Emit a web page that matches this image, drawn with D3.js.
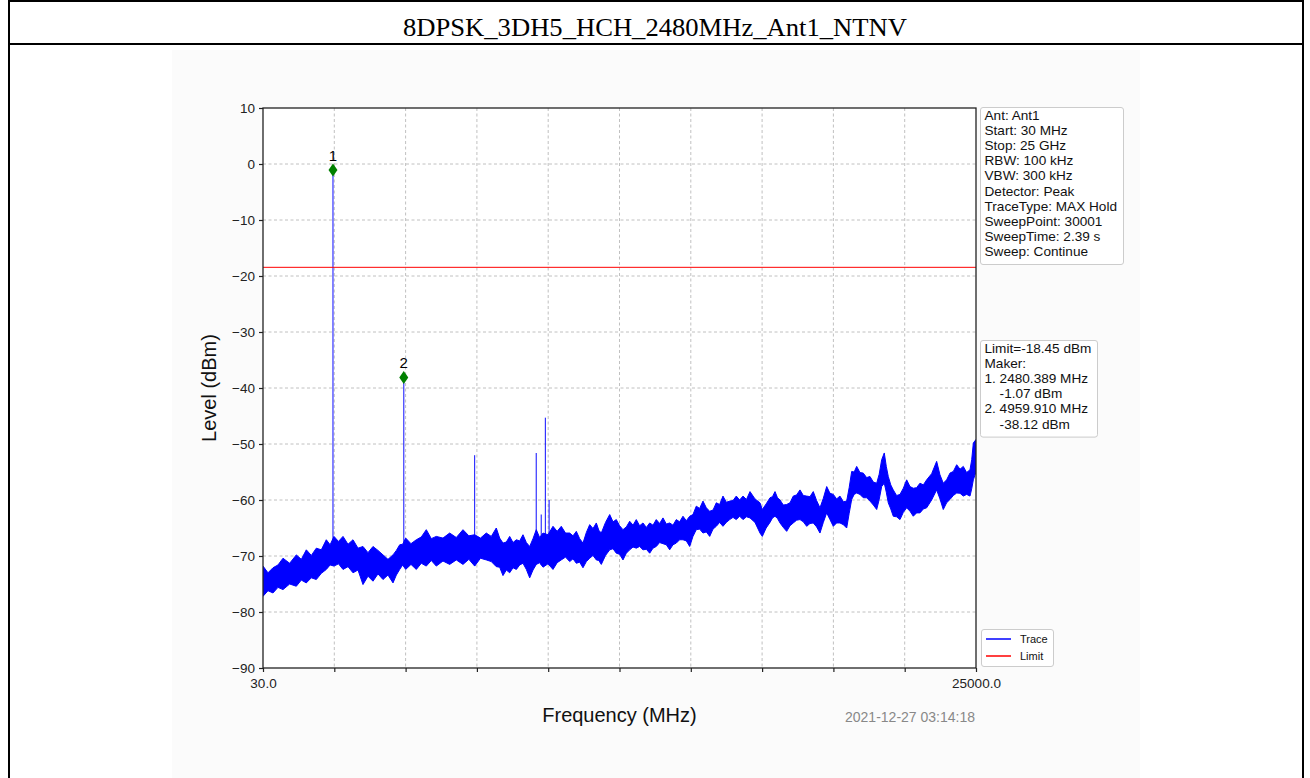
<!DOCTYPE html>
<html>
<head>
<meta charset="utf-8">
<script src="https://cdn.jsdelivr.net/npm/d3@7"></script>
<style>
  html, body { margin: 0; padding: 0; background: #ffffff; }
  svg { display: block; }
</style>
</head>
<body>
<svg id="chart" width="1310" height="778"></svg>
<script>
// ---- spectrum sweep data (MHz, dBm) ----
const title = "8DPSK_3DH5_HCH_2480MHz_Ant1_NTNV";

// noise floor of the MAX-hold trace: frequency, band top, band bottom
const traceFreq = [30, 205, 380, 555, 730, 963, 1197, 1372, 1547, 1722, 1897, 2072, 2247, 2380, 2516, 2674,
  2832, 3007, 3182, 3357, 3532, 3707, 3882, 4057, 4232, 4407, 4583, 4700, 4817, 4922, 5027, 5213,
  5399, 5574, 5749, 5924, 6099, 6333, 6567, 6800, 7034, 7239, 7444, 7647, 7850, 8025, 8200, 8318,
  8435, 8552, 8669, 8786, 8903, 9019, 9135, 9253, 9370, 9486, 9601, 9718, 9836, 10011, 10186, 10331,
  10476, 10624, 10771, 10887, 11003, 11120, 11236, 11354, 11471, 11587, 11703, 11790, 11878, 12025, 12172, 12288,
  12403, 12520, 12637, 12755, 12872, 12988, 13103, 13220, 13338, 13455, 13573, 13688, 13803, 13920, 14038, 14155,
  14273, 14388, 14504, 14621, 14738, 14855, 14973, 15088, 15204, 15321, 15439, 15556, 15674, 15790, 15905, 16022,
  16139, 16256, 16374, 16490, 16605, 16722, 16840, 16962, 17085, 17260, 17435, 17516, 17651, 17786, 17873, 17961,
  18048, 18136, 18253, 18370, 18485, 18601, 18718, 18836, 18953, 19070, 19185, 19301, 19418, 19536, 19653, 19771,
  19886, 20002, 20119, 20236, 20353, 20471, 20558, 20646, 20733, 20821, 20936, 21052, 21170, 21287, 21405, 21522,
  21610, 21697, 21788, 21858, 21928, 22015, 22103, 22220, 22338, 22455, 22572, 22688, 22803, 22920, 23038, 23155,
  23272, 23447, 23622, 23738, 23854, 23971, 24089, 24206, 24324, 24440, 24555, 24672, 24790, 24850, 24907, 25000];
const traceHigh = [-71.8, -73.0, -72.1, -71.6, -70.4, -71.3, -69.8, -70.6, -68.9, -69.9, -68.6, -68.9, -67.1, -68.0, -66.5, -67.4,
  -66.5, -67.9, -67.1, -68.6, -68.3, -69.4, -68.3, -69.0, -69.8, -70.6, -69.8, -69.0, -68.0, -67.9, -66.8, -67.8,
  -67.1, -66.6, -65.3, -66.9, -66.5, -66.8, -65.9, -66.7, -65.3, -66.4, -66.2, -66.8, -65.9, -66.5, -65.0, -66.8,
  -67.7, -67.5, -66.5, -67.6, -67.1, -67.3, -66.2, -67.6, -68.3, -66.9, -65.3, -66.7, -65.9, -66.2, -64.7, -65.6,
  -64.7, -65.9, -65.9, -66.4, -65.6, -66.9, -67.7, -65.8, -64.4, -65.1, -64.1, -65.4, -65.9, -64.0, -62.6, -63.9,
  -63.5, -64.6, -65.3, -64.8, -63.8, -64.5, -63.5, -64.6, -64.1, -64.9, -64.1, -64.5, -63.5, -64.2, -63.2, -64.3,
  -64.1, -64.5, -63.5, -63.9, -62.9, -63.7, -62.9, -62.6, -61.1, -61.5, -60.2, -61.4, -62.0, -61.8, -60.5, -60.8,
  -59.3, -60.4, -60.2, -60.1, -59.3, -60.0, -59.3, -59.9, -58.5, -59.8, -60.5, -61.7, -60.7, -59.6, -59.4, -58.5,
  -59.6, -60.0, -60.9, -60.8, -60.5, -59.3, -59.1, -58.2, -59.2, -59.3, -59.4, -58.5, -60.1, -61.4, -59.7, -57.6,
  -58.8, -59.0, -59.8, -59.3, -60.3, -60.2, -57.8, -54.9, -55.0, -54.0, -55.1, -55.2, -56.0, -55.8, -56.8, -57.0,
  -55.4, -52.8, -51.6, -54.0, -55.8, -57.3, -58.2, -59.2, -59.0, -57.9, -56.4, -57.6, -57.9, -57.8, -57.0, -57.3,
  -56.4, -55.3, -53.1, -55.5, -57.0, -56.4, -55.2, -54.9, -53.7, -54.5, -54.0, -55.1, -54.6, -52.8, -49.8, -49.2];
const traceLow = [-77.2, -76.2, -76.6, -75.6, -76.0, -75.0, -75.4, -74.3, -74.8, -73.9, -74.2, -73.1, -72.4, -71.6, -71.8, -71.4,
  -72.4, -71.9, -73.0, -72.5, -75.1, -73.6, -74.5, -73.2, -74.2, -73.4, -74.8, -73.4, -72.4, -71.6, -72.4, -71.5,
  -72.4, -71.3, -71.8, -70.8, -71.8, -70.9, -71.5, -70.7, -71.5, -70.6, -71.8, -70.4, -70.7, -71.0, -71.9, -72.0,
  -73.5, -72.5, -73.0, -72.1, -72.4, -71.6, -71.3, -72.4, -73.9, -72.5, -71.5, -71.2, -72.0, -71.4, -72.4, -71.2,
  -70.7, -70.2, -71.0, -70.5, -71.3, -71.1, -72.1, -71.0, -70.4, -69.9, -70.7, -70.8, -71.5, -69.9, -68.9, -68.7,
  -69.5, -69.7, -70.7, -69.5, -68.9, -68.4, -68.6, -68.3, -68.9, -68.8, -69.5, -68.6, -68.3, -67.6, -67.8, -68.0,
  -68.9, -68.0, -67.7, -67.1, -67.1, -67.3, -68.3, -66.5, -65.3, -65.2, -65.9, -65.7, -66.5, -65.2, -64.7, -64.0,
  -64.7, -64.0, -63.5, -63.1, -63.5, -62.9, -63.5, -63.0, -63.2, -64.0, -65.9, -66.5, -65.0, -64.0, -63.2, -62.9,
  -63.3, -64.1, -64.9, -65.6, -64.6, -64.1, -63.6, -63.5, -63.9, -64.7, -64.2, -64.1, -64.8, -65.9, -64.0, -62.3,
  -63.5, -64.7, -64.1, -64.1, -64.4, -65.0, -62.4, -59.9, -59.0, -58.75, -59.0, -59.6, -59.6, -60.2, -60.9, -61.7,
  -59.9, -57.6, -57.0, -58.6, -60.5, -61.6, -62.9, -63.0, -63.5, -62.2, -61.4, -62.0, -62.9, -62.3, -62.3, -61.6,
  -61.4, -60.0, -58.2, -59.8, -61.7, -60.5, -59.9, -59.2, -58.75, -58.8, -59.3, -59.0, -59.3, -58.0, -56.4, -55.0];

// narrow emissions rising above the noise floor
const spikeFreq  = [2480.389, 4959.910, 7440, 9600, 9775, 9920, 10050];
const spikeLevel = [-1.07, -38.12, -52.0, -51.6, -62.6, -45.3, -60.0];

// markers and limit
const markerFreq  = [2480.389, 4959.910];
const markerLevel = [-1.07, -38.12];
const markerName  = ["1", "2"];
const limitLevel  = -18.45;

// axis ticks
const xStart = 30, xStop = 25000;
const xTickValues = [30, 2527, 5024, 7521, 10018, 12515, 15012, 17509, 20006, 22503, 25000];
const xTickLabels = ["30.0", "", "", "", "", "", "", "", "", "", "25000.0"];
const yTickValues = [10, 0, -10, -20, -30, -40, -50, -60, -70, -80, -90];

// text panels
const infoLines = ["Ant: Ant1", "Start: 30 MHz", "Stop: 25 GHz", "RBW: 100 kHz", "VBW: 300 kHz",
  "Detector: Peak", "TraceType: MAX Hold", "SweepPoint: 30001", "SweepTime: 2.39 s", "Sweep: Continue"];
const markerLines = ["Limit=-18.45 dBm", "Maker:", "1. 2480.389 MHz", "    -1.07 dBm",
  "2. 4959.910 MHz", "    -38.12 dBm"];
const legendNames  = ["Trace", "Limit"];
const legendColors = ["#0000ff", "#ff0000"];
const timestamp = "2021-12-27 03:14:18";

// ---- drawing ----
const svg = d3.select("#chart");
const sans = "'Liberation Sans', Arial, sans-serif";

// outer table frame with title cell
svg.append("rect").attr("x", 0).attr("y", 0).attr("width", 1310).attr("height", 778).attr("fill", "#fff");
svg.append("rect").attr("x", 172).attr("y", 50).attr("width", 968).attr("height", 740).attr("fill", "#fbfbfb");
const frame = svg.append("g").attr("stroke", "#000").attr("stroke-width", 2);
frame.append("line").attr("x1", 8).attr("x2", 1304).attr("y1", 1).attr("y2", 1);
frame.append("line").attr("x1", 8).attr("x2", 1304).attr("y1", 44).attr("y2", 44);
frame.append("line").attr("x1", 9).attr("x2", 9).attr("y1", 0).attr("y2", 778);
frame.append("line").attr("x1", 1303).attr("x2", 1303).attr("y1", 0).attr("y2", 778);
svg.append("text").attr("x", 655).attr("y", 36).attr("text-anchor", "middle")
  .attr("font-family", "'Liberation Serif', 'Times New Roman', serif").attr("font-size", 26)
  .attr("textLength", 504).attr("lengthAdjust", "spacingAndGlyphs")
  .attr("fill", "#000").text(title);

const L = 263, R = 976, T = 108, B = 668;
const x = d3.scaleLinear().domain([xStart, xStop]).range([L, R]);
const y = d3.scaleLinear().domain([-90, 10]).range([B, T]);

svg.append("rect").attr("x", L).attr("y", T).attr("width", R - L).attr("height", B - T).attr("fill", "#fff");

// grid
const grid = svg.append("g").attr("stroke", "#b0b0b0").attr("stroke-width", 0.8).attr("stroke-dasharray", "3,2.5");
grid.selectAll(".gx").data(xTickValues.slice(1, -1)).join("line")
  .attr("x1", d => x(d)).attr("x2", d => x(d)).attr("y1", T).attr("y2", B);
grid.selectAll(".gy").data(yTickValues.slice(1, -1)).join("line")
  .attr("x1", L).attr("x2", R).attr("y1", d => y(d)).attr("y2", d => y(d));

// trace band
const band = traceFreq.map((f, i) => ({ f, hi: traceHigh[i], lo: traceLow[i] }));
const area = d3.area().x(d => x(d.f)).y0(d => y(d.lo)).y1(d => y(d.hi));
const clip = svg.append("clipPath").attr("id", "plotclip");
clip.append("rect").attr("x", L).attr("y", T).attr("width", R - L).attr("height", B - T);
const plot = svg.append("g").attr("clip-path", "url(#plotclip)");
plot.append("path").datum(band).attr("d", area)
  .attr("fill", "#0000ff").attr("stroke", "#0000ff").attr("stroke-width", 1).attr("stroke-linejoin", "miter");

// spikes rise from the floor at their frequency
const floorAt = f => {
  const i = Math.max(1, d3.bisectLeft(traceFreq, f));
  const t = (f - traceFreq[i - 1]) / (traceFreq[i] - traceFreq[i - 1]);
  return traceLow[i - 1] + t * (traceLow[i] - traceLow[i - 1]);
};
plot.selectAll(".spike").data(spikeFreq.map((f, i) => ({ f, v: spikeLevel[i] }))).join("line")
  .attr("x1", d => x(d.f)).attr("x2", d => x(d.f))
  .attr("y1", d => y(floorAt(d.f))).attr("y2", d => y(d.v))
  .attr("stroke", "#0000ff").attr("stroke-width", 1.2).attr("stroke-opacity", 0.8);

// limit line
plot.append("line").attr("x1", L).attr("x2", R).attr("y1", y(limitLevel)).attr("y2", y(limitLevel))
  .attr("stroke", "#ff0000").attr("stroke-width", 1);

// markers
const mk = svg.append("g");
markerFreq.forEach((f, i) => {
  const cx = x(f), cy = y(markerLevel[i]);
  mk.append("path").attr("d", `M${cx},${cy - 6.5}L${cx + 4.5},${cy}L${cx},${cy + 6.5}L${cx - 4.5},${cy}Z`)
    .attr("fill", "#008000");
  mk.append("text").attr("x", cx).attr("y", cy - 9).attr("text-anchor", "middle")
    .attr("font-family", sans).attr("font-size", 15).attr("fill", "#000").text(markerName[i]);
});

// axes
const xAxis = d3.axisBottom(x).tickValues(xTickValues).tickSize(4).tickPadding(6)
  .tickFormat((d, i) => xTickLabels[i]);
const yAxis = d3.axisLeft(y).tickValues(yTickValues).tickSize(4).tickPadding(4)
  .tickFormat(d => d < 0 ? "\u2212" + Math.abs(d) : String(d));
const gx = svg.append("g").attr("transform", `translate(0,${B})`).call(xAxis);
const gy = svg.append("g").attr("transform", `translate(${L},0)`).call(yAxis);
[gx, gy].forEach(g => {
  g.select(".domain").remove();
  g.selectAll("line").attr("stroke", "#222").attr("stroke-width", 1.2);
  g.selectAll("text").attr("font-family", sans).attr("font-size", 13.5).attr("fill", "#222");
});
svg.append("rect").attr("x", L).attr("y", T).attr("width", R - L).attr("height", B - T)
  .attr("fill", "none").attr("stroke", "#222").attr("stroke-width", 1.3);

// axis titles
svg.append("text").attr("transform", `translate(216,${(T + B) / 2}) rotate(-90)`).attr("text-anchor", "middle")
  .attr("font-family", sans).attr("font-size", 20).attr("fill", "#111").text("Level (dBm)");
svg.append("text").attr("x", (L + R) / 2).attr("y", 722).attr("text-anchor", "middle")
  .attr("font-family", sans).attr("font-size", 20).attr("fill", "#111").text("Frequency (MHz)");
svg.append("text").attr("x", 975).attr("y", 722).attr("text-anchor", "end")
  .attr("font-family", sans).attr("font-size", 14).attr("fill", "#888").text(timestamp);

// text panels
function panel(x0, y0, w, lines, lineH, fs) {
  const g = svg.append("g");
  g.append("rect").attr("x", x0).attr("y", y0).attr("width", w).attr("height", lines.length * lineH + 6)
    .attr("rx", 2.5).attr("fill", "#fff").attr("stroke", "#cccccc").attr("stroke-width", 1);
  g.selectAll("text").data(lines).join("text")
    .attr("x", x0 + 4).attr("y", (d, i) => y0 + 12.5 + i * lineH)
    .attr("font-family", sans).attr("font-size", fs).attr("fill", "#111")
    .attr("xml:space", "preserve").style("white-space", "pre").text(d => d);
}
panel(980.5, 107.5, 143, infoLines, 15.1, 13.6);
panel(980.5, 340.5, 117, markerLines, 15.1, 13.6);

// legend
const lg = svg.append("g");
lg.append("rect").attr("x", 981.5).attr("y", 629.5).attr("width", 72).attr("height", 37)
  .attr("rx", 2.5).attr("fill", "#fff").attr("stroke", "#cccccc");
legendNames.forEach((n, i) => {
  const yy = 639 + i * 17;
  lg.append("line").attr("x1", 986).attr("x2", 1011).attr("y1", yy).attr("y2", yy)
    .attr("stroke", legendColors[i]).attr("stroke-width", 1.5);
  lg.append("text").attr("x", 1020).attr("y", yy + 4).attr("font-family", sans).attr("font-size", 11)
    .attr("fill", "#111").text(n);
});
</script>
</body>
</html>
